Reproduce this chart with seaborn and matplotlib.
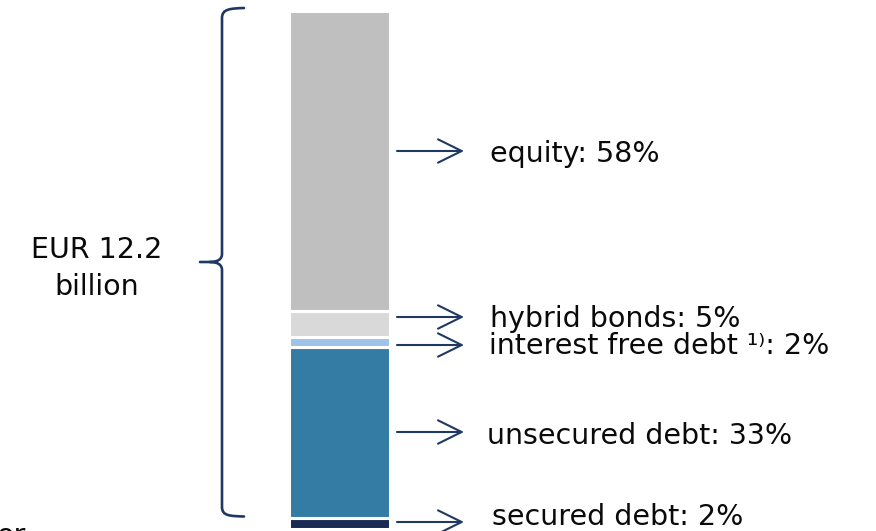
import matplotlib
matplotlib.use("Agg")
import matplotlib.pyplot as plt
from matplotlib.path import Path
from matplotlib.patches import PathPatch
import seaborn as sns
import pandas as pd

# ---- data ----
segments = ["secured debt", "unsecured debt", "interest free debt", "hybrid bonds", "equity"]
shares = [2, 33, 2, 5, 58]
labels = ["secured debt: 2%", "unsecured debt: 33%", "interest free debt \u00b9\u207e: 2%",
          "hybrid bonds: 5%", "equity: 58%"]
colors = ["#1A2A52", "#357CA4", "#9DC3E6", "#D9D9D9", "#BFBFBF"]
total_lines = ["EUR 12.2", "billion"]

sns.set_theme(style="white")
plt.rcParams["font.family"] = ["DejaVu Sans"]

W, H = 876, 531
fig = plt.figure(figsize=(W / 100, H / 100), dpi=100)

# overlay axes in pixel coordinates for annotations
ov = fig.add_axes([0, 0, 1, 1])
ov.set_xlim(0, W)
ov.set_ylim(H, 0)
ov.axis("off")
ov.patch.set_alpha(0)

# bar axes
bl, br, bt, bb = 288.5, 389.5, 10.5, 528.5
ax = fig.add_axes([bl / W, (H - bb) / H, (br - bl) / W, (bb - bt) / H])
ax.patch.set_alpha(0)

df = pd.DataFrame({"segment": segments, "share": shares, "color": colors})
bottom = 0
for _, row in df.iterrows():
    sns.barplot(x=[0], y=[row["share"]], bottom=bottom, color=row["color"],
                saturation=1, width=1, edgecolor="white", linewidth=2.2,
                errorbar=None, ax=ax)
    bottom += row["share"]
ax.set_xlim(-0.5, 0.5)
ax.set_ylim(0, 100)
ax.axis("off")

navy = "#1F3864"
fs = 20.5
# arrows and labels (layout positions in pixels)
arrow_y = [522, 432, 345, 317, 151]
text_pos = [(492, 525), (487, 444), (489, 354), (490, 327), (490, 162)]
for ay, (tx, ty), lab in zip(arrow_y, text_pos, labels):
    ov.annotate("", xy=(464, ay), xytext=(397, ay),
                arrowprops=dict(arrowstyle="->,head_length=0.85,head_width=0.42",
                                color=navy, lw=1.5, mutation_scale=20,
                                shrinkA=0, shrinkB=0))
    ov.text(tx, ty, lab, fontsize=fs, color="#0A0A0A", va="baseline", ha="left")

# brace
verts = [(244, 8), (230, 8.5), (222, 9), (222, 18),
         (222, 254),
         (222, 259), (218, 262), (210, 262),
         (200, 262),
         (210, 262), (218, 262), (222, 265), (222, 270),
         (222, 507),
         (222, 516), (230, 516), (244, 516.5)]
codes = [Path.MOVETO, Path.CURVE4, Path.CURVE4, Path.CURVE4,
         Path.LINETO,
         Path.CURVE4, Path.CURVE4, Path.CURVE4,
         Path.LINETO,
         Path.MOVETO, Path.CURVE4, Path.CURVE4, Path.CURVE4,
         Path.LINETO,
         Path.CURVE4, Path.CURVE4, Path.CURVE4]
ov.add_patch(PathPatch(Path(verts, codes), facecolor="none", edgecolor=navy,
                       lw=1.9, capstyle="round", joinstyle="round"))

for line, by in zip(total_lines, [258, 295]):
    ov.text(97, by, line, fontsize=fs, color="#0A0A0A", ha="center", va="baseline")
ov.text(-4, 544, "or", fontsize=fs, color="#0A0A0A", va="baseline", ha="left")

fig.savefig("out.png", dpi=100)
